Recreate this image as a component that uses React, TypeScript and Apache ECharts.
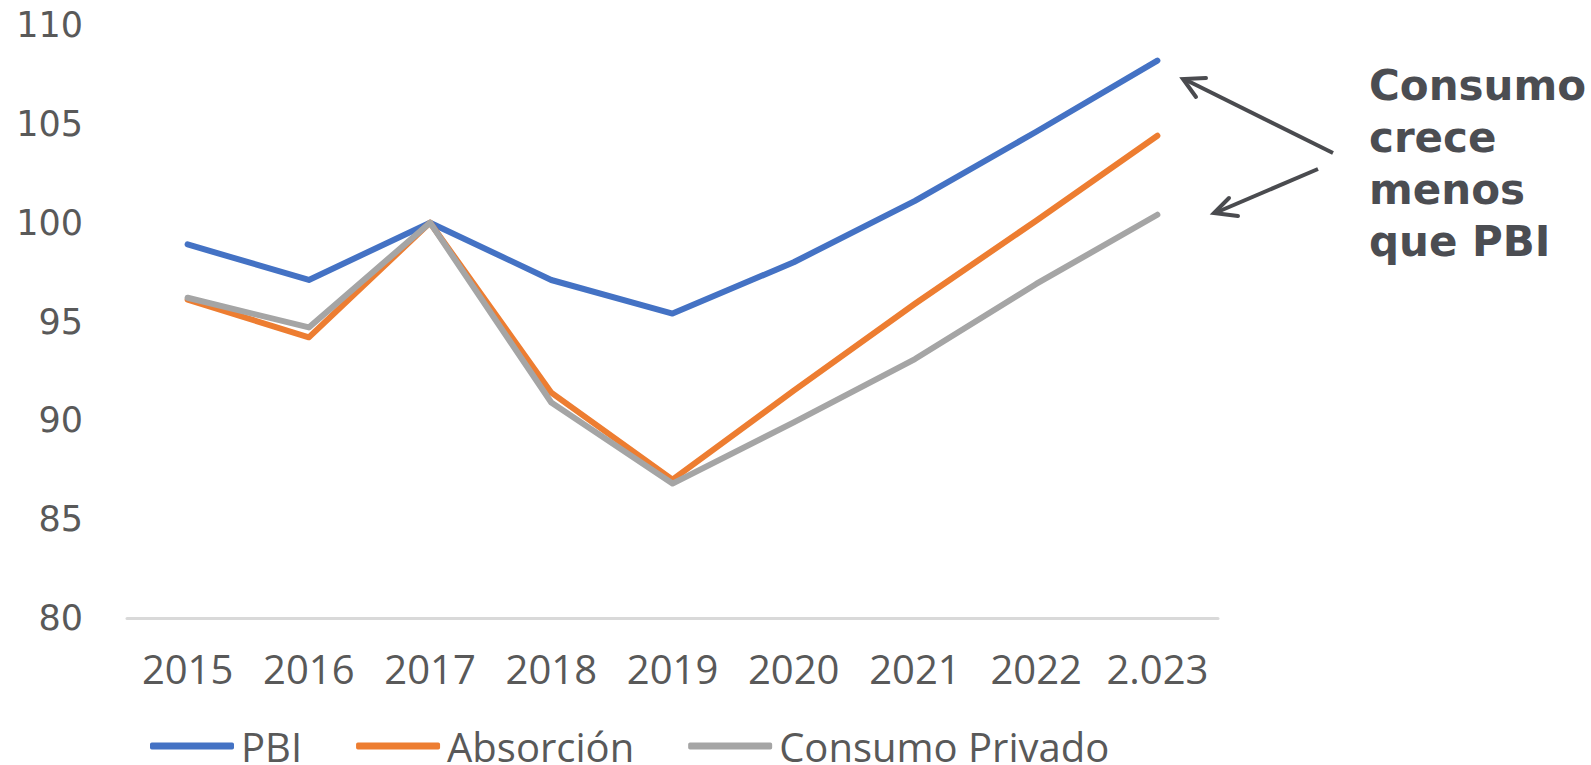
import React, { useEffect, useRef } from "react";
import * as echarts from "echarts";

const categories = ["2015", "2016", "2017", "2018", "2019", "2020", "2021", "2022", "2.023"];
const pbi = [98.9, 97.1, 100.0, 97.1, 95.4, 98.0, 101.1, 104.6, 108.2];
const absorcion = [96.1, 94.2, 100.0, 91.4, 87.0, 91.5, 95.9, 100.1, 104.4];
const consumoPrivado = [96.2, 94.7, 100.0, 90.9, 86.8, 89.9, 93.1, 96.9, 100.4];
const seriesNames = ["PBI", "Absorción", "Consumo Privado"];
const colors = ["#4472C4", "#ED7D31", "#A5A5A5"];
const annotationText = "Consumo\ncrece\nmenos\nque PBI";

export default function App() {
  const ref = useRef<HTMLDivElement>(null);
  useEffect(() => {
    if (!ref.current) return;
    const chart = echarts.init(ref.current, undefined, { renderer: "svg" });
    const lineStyle = (c: string) => ({ color: c, width: 6, cap: "round", join: "round" });
    const arrowColor = "#4a4b4f";
    chart.setOption({
      animation: false,
      backgroundColor: "#ffffff",
      color: colors,
      grid: { left: 127, right: 373, top: 25, bottom: 147, containLabel: false },
      xAxis: {
        type: "category",
        data: categories,
        boundaryGap: true,
        axisTick: { show: false },
        axisLine: { show: true, lineStyle: { color: "#d9d9d9", width: 3 } },
        axisLabel: {
          color: "#595959",
          fontFamily: "Open Sans",
          fontSize: 40,
          margin: 30,
          interval: 0,
        },
        splitLine: { show: false },
      },
      yAxis: {
        type: "value",
        min: 80,
        max: 110,
        interval: 5,
        axisLine: { show: false },
        axisTick: { show: false },
        splitLine: { show: false },
        axisLabel: {
          color: "#595959",
          fontFamily: "DejaVu Sans",
          fontSize: 35,
          margin: 44,
        },
      },
      legend: {
        data: seriesNames,
        left: 150,
        top: 726,
        padding: 0,
        icon: "roundRect",
        itemWidth: 84,
        itemHeight: 7,
        itemGap: 54,
        textStyle: {
          color: "#595959",
          fontFamily: "Open Sans",
          fontSize: 40,
          padding: [0, 0, 0, 2],
        },
      },
      series: [
        { name: seriesNames[0], type: "line", data: pbi, showSymbol: false, symbol: "none", lineStyle: lineStyle(colors[0]), itemStyle: { color: colors[0] } },
        { name: seriesNames[1], type: "line", data: absorcion, showSymbol: false, symbol: "none", lineStyle: lineStyle(colors[1]), itemStyle: { color: colors[1] } },
        { name: seriesNames[2], type: "line", data: consumoPrivado, showSymbol: false, symbol: "none", lineStyle: lineStyle(colors[2]), itemStyle: { color: colors[2] } },
      ],
      graphic: [
        {
          type: "text",
          left: 1369,
          top: 59,
          style: {
            text: annotationText,
            fill: "#4b4d52",
            font: "bold 42px 'DejaVu Sans'",
            lineHeight: 52,
          },
        },
        {
          type: "polyline",
          shape: { points: [[1333, 153], [1184, 79]] },
          style: { stroke: arrowColor, lineWidth: 4, fill: "none" },
        },
        {
          type: "polyline",
          shape: { points: [[1206, 78], [1183, 79], [1196, 97]] },
          style: { stroke: arrowColor, lineWidth: 4, fill: "none", lineCap: "round", lineJoin: "miter" },
        },
        {
          type: "polyline",
          shape: { points: [[1318, 169], [1215, 213]] },
          style: { stroke: arrowColor, lineWidth: 4, fill: "none" },
        },
        {
          type: "polyline",
          shape: { points: [[1238, 216], [1214, 213], [1229, 198]] },
          style: { stroke: arrowColor, lineWidth: 4, fill: "none", lineCap: "round", lineJoin: "miter" },
        },
      ],
    });
    return () => chart.dispose();
  }, []);
  return (
    <div
      ref={ref}
      style={{ position: "fixed", left: 0, top: 0, width: 1591, height: 765, background: "#fff" }}
    />
  );
}
